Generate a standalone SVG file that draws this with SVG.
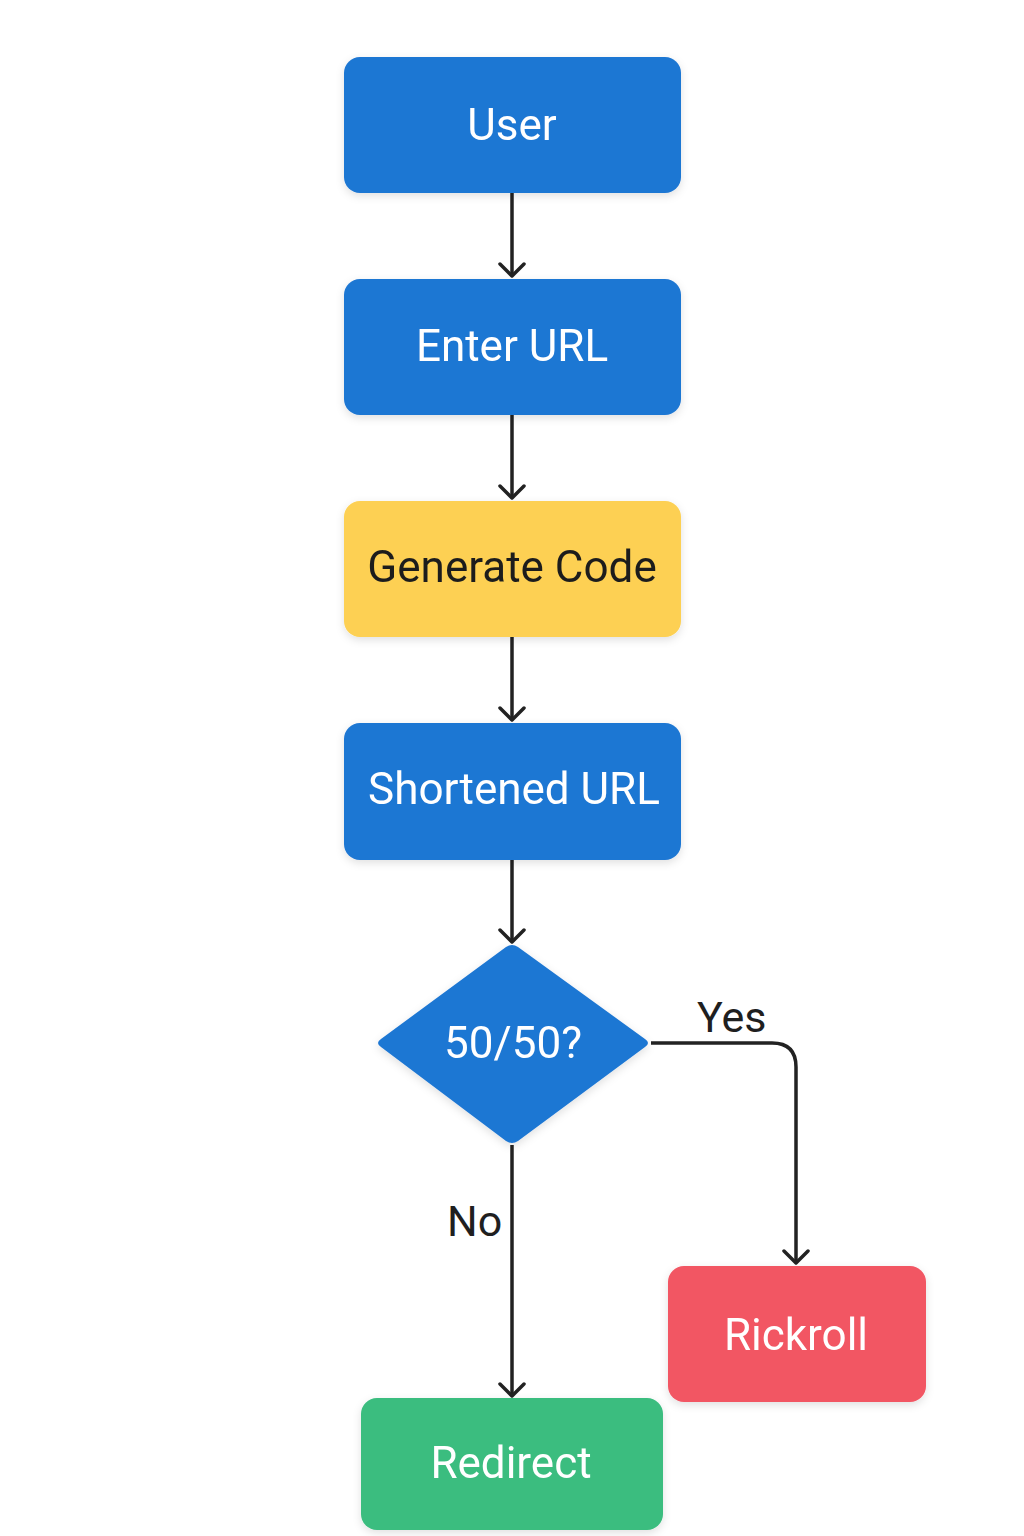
<svg xmlns="http://www.w3.org/2000/svg" width="1024" height="1536" viewBox="0 0 1024 1536">
<defs>
<filter id="sh" x="-10%" y="-10%" width="120%" height="130%">
<feDropShadow dx="0" dy="3" stdDeviation="4" flood-color="#000" flood-opacity="0.12"/>
</filter>
<marker id="ah" markerWidth="18" markerHeight="28" viewBox="0 0 18 28" refX="15" refY="14" orient="auto" markerUnits="userSpaceOnUse">
<path d="M3 2 L15 14 L3 26" fill="none" stroke="#222" stroke-width="3.5" stroke-linecap="round" stroke-linejoin="round"/>
</marker>
</defs>
<style>
.lbl{font-family:Roboto,"Liberation Sans",sans-serif;font-size:44px;text-anchor:middle}
.w{fill:#fff}
.d{fill:#1f1f1f}
.blue{fill:#1f77d3}
.edge{fill:none;stroke:#222;stroke-width:3.5}
.el{font-family:Roboto,"Liberation Sans",sans-serif;font-size:43px;fill:#1f1f1f}
</style>
<rect width="1024" height="1536" fill="#fff"/>
<g id="connectors">
<line class="edge" x1="512" y1="193" x2="512" y2="276" marker-end="url(#ah)"/>
<line class="edge" x1="512" y1="415" x2="512" y2="498" marker-end="url(#ah)"/>
<line class="edge" x1="512" y1="637" x2="512" y2="720" marker-end="url(#ah)"/>
<line class="edge" x1="512" y1="860" x2="512" y2="942" marker-end="url(#ah)"/>
<line class="edge" x1="512" y1="1145" x2="512" y2="1396" marker-end="url(#ah)"/>
<path class="edge" d="M651 1043 H772 Q796 1043 796 1067 V1263" marker-end="url(#ah)"/>
<text class="el" x="697" y="1032">Yes</text>
<text class="el" x="447" y="1236">No</text>
</g>
<g id="user" filter="url(#sh)">
<rect class="blue" x="344" y="57" width="337" height="136" rx="16"/>
<text class="lbl w" x="512" y="140">User</text>
</g>
<g id="enter-url" filter="url(#sh)">
<rect class="blue" x="344" y="279" width="337" height="136" rx="16"/>
<text class="lbl w" x="512" y="361">Enter URL</text>
</g>
<g id="generate-code" filter="url(#sh)">
<rect x="344" y="501" width="337" height="136" rx="16" fill="#fdd052"/>
<text class="lbl d" x="512" y="582">Generate Code</text>
</g>
<g id="shortened-url" filter="url(#sh)">
<rect class="blue" x="344" y="723" width="337" height="137" rx="16"/>
<text class="lbl w" x="514" y="804">Shortened URL</text>
</g>
<g id="decision" filter="url(#sh)">
<path class="blue" d="M506 947 Q512 943 518 947 L645 1039 Q651 1043 645 1047 L518 1141 Q512 1145 506 1141 L381 1047 Q375 1043 381 1039 Z"/>
<text class="lbl w" x="513" y="1058">50/50?</text>
</g>
<g id="rickroll" filter="url(#sh)">
<rect x="668" y="1266" width="258" height="136" rx="16" fill="#f25664"/>
<text class="lbl w" x="796" y="1350">Rickroll</text>
</g>
<g id="redirect" filter="url(#sh)">
<rect x="361" y="1398" width="302" height="132" rx="16" fill="#3bbd7f"/>
<text class="lbl w" x="511" y="1478">Redirect</text>
</g>
</svg>
